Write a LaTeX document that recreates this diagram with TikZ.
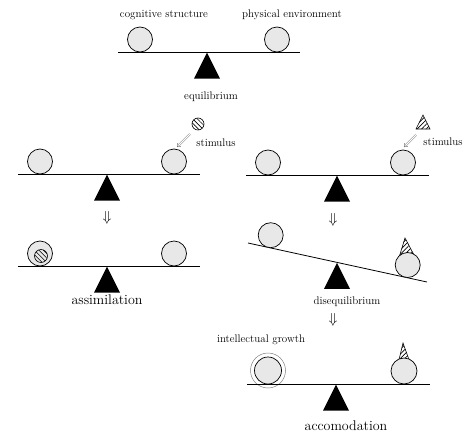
\documentclass[tikz,border=0pt]{standalone}
\usetikzlibrary{positioning,arrows.meta,shapes.geometric,patterns.meta}
\begin{document}
\begin{tikzpicture}[x=1pt,y=-1pt,
  ball/.style={circle,draw,fill=black!9,line width=0.7pt,minimum size=25pt,inner sep=0pt},
  pivot/.style={isosceles triangle,shape border rotate=90,isosceles triangle stretches,
    fill=black,minimum width=26pt,minimum height=26pt,inner sep=0pt,anchor=apex},
  beam/.style={line width=0.8pt},
  hatch/.style={draw,line width=0.6pt,preaction={fill=white},
    pattern={Lines[angle=45,distance=3.2pt,line width=0.7pt]}},
  rhatch/.style={hatch,pattern={Lines[angle=-45,distance=3.2pt,line width=0.6pt]}},
  lbl/.style={font=\fontsize{11}{13}\selectfont},
  big/.style={font=\fontsize{14}{16}\selectfont},
  down/.style={font=\fontsize{15}{17}\selectfont},
  stim/.style={double,double distance=1.3pt,line width=0.4pt,-{Implies},black!60}]
  \useasboundingbox (0,0) rectangle (474,442);
  % equilibrium
  \draw[beam] (118,52) -- (300,52);
  \node[pivot] (p1) at (207,52) {};
  \node[ball] (cog) at (140,39.5) {};
  \node[ball] (env) at (277,39.5) {};
  \node[lbl] (tcog) at (164,15) {cognitive structure};
  \node[lbl] (tenv) at (292,15) {physical environment};
  \node[lbl] (teq) at (211,97) {equilibrium};
  % assimilation
  \draw[beam] (18,174) -- (200,174);
  \node[pivot] (p2) at (107,174) {};
  \node[ball] (a1) at (40,161.5) {};
  \node[ball] (a2) at (174,161.5) {};
  \node[circle,rhatch,minimum size=12pt,inner sep=0pt] (sa) at (198,124) {};
  \coordinate (sa1) at (190,134);
  \coordinate (sa2) at (177,147);
  \draw[stim] (sa1) -- (sa2);
  \node[lbl] (tsa) at (216,143) {stimulus};
  \node[down] (d1) at (107,218) {$\Downarrow$};
  \draw[beam] (18,266) -- (200,266);
  \node[pivot] (p3) at (107,266) {};
  \node[ball] (a3) at (40,253.5) {};
  \node[circle,rhatch,minimum size=13pt,inner sep=0pt,preaction={fill=black!9}] (sin) at (41,256) {};
  \node[ball] (a4) at (174,253.5) {};
  \node[big] (tas) at (107,300) {assimilation};
  % disequilibrium
  \draw[beam] (246,175) -- (429,175);
  \node[pivot] (p4) at (337,175) {};
  \node[ball] (b1) at (268,162.5) {};
  \node[ball] (b2) at (403,162.5) {};
  \draw[hatch] (423,115) -- (416,129) -- (430,129) -- cycle;
  \coordinate (sb1) at (416,135);
  \coordinate (sb2) at (404,147);
  \draw[stim] (sb1) -- (sb2);
  \node[lbl] (tsb) at (443,142) {stimulus};
  \node[down] (d2) at (333,220) {$\Downarrow$};
  \draw[beam] (248,243) -- (427,282);
  \node[pivot] (p5) at (337,262.4) {};
  \node[ball] (b3) at (270.7,235.2) {};
  \draw[hatch] (405,238) -- (399.5,256) -- (407,262) -- (414,255) -- cycle;
  \node[ball] (b4) at (407.7,265) {};
  \node[lbl] (tdis) at (347,302) {disequilibrium};
  \node[down] (d3) at (333,320) {$\Downarrow$};
  % accomodation
  \node[circle,draw=black!50,line width=0.5pt,minimum size=35pt,inner sep=0pt] (ring) at (268,370.5) {};
  \draw[beam] (247,384) -- (430,384);
  \node[pivot] (p6) at (336,384) {};
  \node[ball,minimum size=27pt] (g1) at (268,370.5) {};
  \draw[hatch] (403,343) -- (398.5,362) -- (404,366) -- (409.5,361) -- cycle;
  \node[ball,minimum size=26pt] (g2) at (404,371) {};
  \node[lbl] (tgr) at (261,340) {intellectual growth};
  \node[big] (tac) at (346,426) {accomodation};
\end{tikzpicture}
\end{document}
